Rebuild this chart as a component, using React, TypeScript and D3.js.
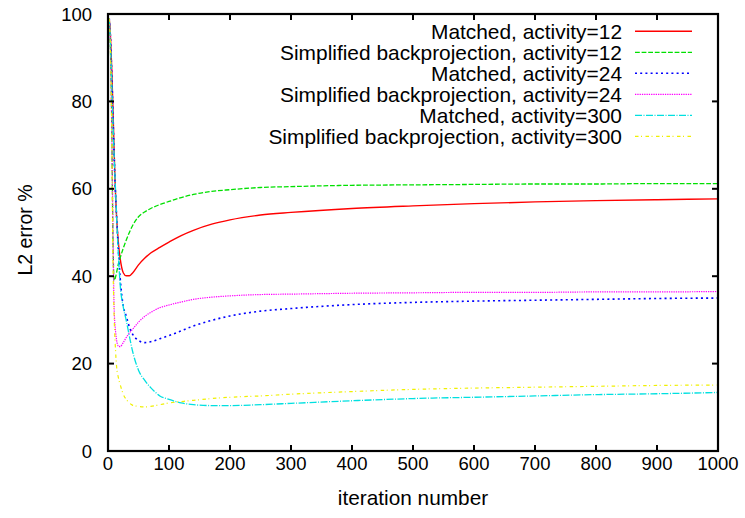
import React from "react";
import * as d3 from "d3";

const iterations = [2, 4, 6, 8, 10, 12, 14, 17, 20, 25, 30, 35, 40, 50, 60, 70, 85, 100, 120, 140, 170, 200, 250, 300, 400, 500, 600, 700, 800, 900, 1000];

const matched12 = [99, 95, 88, 79, 69, 60, 53.7, 47.7, 44.0, 40.8, 40.1, 40.1, 40.7, 42.6, 44.1, 45.3, 46.6, 47.8, 49.3, 50.5, 51.9, 52.9, 54.0, 54.6, 55.5, 56.1, 56.6, 57.0, 57.3, 57.5, 57.7];
const simplified12 = [99, 92, 76, 50, 39.0, 39.6, 40.8, 42.8, 44.2, 46.4, 48.3, 50.0, 51.5, 53.6, 54.7, 55.5, 56.4, 57.1, 58.0, 58.7, 59.4, 59.8, 60.3, 60.5, 60.8, 60.9, 61.0, 61.1, 61.1, 61.2, 61.2];
const matched24 = [99, 95, 87, 78, 68, 60, 54, 46, 39.5, 33.2, 30.8, 28.4, 26.8, 25.3, 24.8, 25.0, 25.7, 26.4, 27.5, 28.6, 29.9, 30.9, 32.0, 32.6, 33.5, 34.0, 34.3, 34.5, 34.7, 34.9, 35.0];
const simplified24 = [99, 92, 76, 52, 33, 28, 25.5, 24.0, 23.9, 24.8, 26.0, 27.0, 27.8, 29.5, 30.8, 31.7, 32.8, 33.4, 34.1, 34.7, 35.2, 35.5, 35.8, 35.9, 36.1, 36.2, 36.3, 36.3, 36.4, 36.4, 36.5];
const matched300 = [99, 93, 85, 76, 68, 61, 54, 45, 38, 33, 29.8, 26.3, 23.0, 18.5, 16.2, 14.5, 12.6, 11.8, 11.0, 10.6, 10.4, 10.4, 10.6, 10.9, 11.5, 12.0, 12.3, 12.6, 12.9, 13.1, 13.4];
const simplified300 = [99, 92, 75, 45, 31, 24, 19.5, 16.8, 15.2, 13.0, 11.8, 11.0, 10.5, 10.2, 10.1, 10.2, 10.6, 11.0, 11.3, 11.6, 12.0, 12.3, 12.6, 13.0, 13.6, 14.1, 14.4, 14.6, 14.8, 15.0, 15.1];

const seriesLabels = [
  "Matched, activity=12",
  "Simplified backprojection, activity=12",
  "Matched, activity=24",
  "Simplified backprojection, activity=24",
  "Matched, activity=300",
  "Simplified backprojection, activity=300",
];
const seriesValues = [matched12, simplified12, matched24, simplified24, matched300, simplified300];
const seriesColors = ["#ff0000", "#00e000", "#0000ff", "#ff00ff", "#00e0e0", "#f0f000"];
const seriesDash = ["none", "4.8,1.8", "2,3.2", "1.3,1", "7,1.5,1,1.5", "3.5,2.5,1,3.5"];
const seriesWidth = [1.4, 1.3, 1.6, 1.2, 1.3, 1.2];

const xTicks = [0, 100, 200, 300, 400, 500, 600, 700, 800, 900, 1000];
const yTicks = [0, 20, 40, 60, 80, 100];

const W = 745;
const H = 518;
const margin = { left: 108, right: 27, top: 14, bottom: 67 };

export default function App() {
  const x = d3.scaleLinear().domain([0, 1000]).range([margin.left, W - margin.right]);
  const y = d3.scaleLinear().domain([0, 100]).range([H - margin.bottom, margin.top]);
  const line = d3
    .line<number>()
    .x((_, i) => x(iterations[i]))
    .y((d) => y(d))
    .curve(d3.curveMonotoneX);

  const font = "'Liberation Sans', Arial, Helvetica, sans-serif";
  const tickLen = 6;
  const x0 = x(0), x1 = x(1000), y0 = y(0), y1 = y(100);

  return (
    <svg width={W} height={H} style={{ position: "absolute", left: 0, top: 0, background: "#fff" }} fontFamily={font}>
      <rect x={0} y={0} width={W} height={H} fill="#fff" />
      <defs>
        <clipPath id="plotclip">
          <rect x={x0} y={y1} width={x1 - x0} height={y0 - y1} />
        </clipPath>
      </defs>
      {/* curves */}
      <g clipPath="url(#plotclip)">
        {seriesValues.map((vals, i) => (
          <path
            key={i}
            d={line(vals) || ""}
            fill="none"
            stroke={seriesColors[i]}
            strokeWidth={seriesWidth[i]}
            strokeDasharray={seriesDash[i]}
          />
        ))}
      </g>
      {/* ticks */}
      {xTicks.map((t) => (
        <g key={"x" + t}>
          <line x1={x(t)} x2={x(t)} y1={y0} y2={y0 - tickLen} stroke="#000" strokeWidth={2} />
          <line x1={x(t)} x2={x(t)} y1={y1} y2={y1 + tickLen} stroke="#000" strokeWidth={2} />
          <text x={x(t)} y={470} fontSize={18.5} textAnchor="middle">
            {t}
          </text>
        </g>
      ))}
      {yTicks.map((t) => (
        <g key={"y" + t}>
          <line x1={x0} x2={x0 + tickLen} y1={y(t)} y2={y(t)} stroke="#000" strokeWidth={2} />
          <line x1={x1} x2={x1 - tickLen} y1={y(t)} y2={y(t)} stroke="#000" strokeWidth={2} />
          <text x={92} y={y(t)} fontSize={18.5} textAnchor="end" dominantBaseline="central">
            {t}
          </text>
        </g>
      ))}
      {/* frame */}
      <rect x={x0} y={y1} width={x1 - x0} height={y0 - y1} fill="none" stroke="#000" strokeWidth={2.2} />
      {/* axis labels */}
      <text x={(x0 + x1) / 2} y={497} fontSize={20.8} textAnchor="middle" dominantBaseline="central">
        iteration number
      </text>
      <text
        transform={`translate(25, 230) rotate(-90)`}
        fontSize={19.5}
        textAnchor="middle"
        dominantBaseline="central"
      >
        L2 error %
      </text>
      {/* legend */}
      {seriesLabels.map((lab, i) => {
        const ly = 31.3 + 21 * i;
        return (
          <g key={"l" + i}>
            <text x={622} y={ly} fontSize={20.9} textAnchor="end" dominantBaseline="central">
              {lab}
            </text>
            <line
              x1={635}
              x2={692}
              y1={ly}
              y2={ly}
              stroke={seriesColors[i]}
              strokeWidth={seriesWidth[i]}
              strokeDasharray={seriesDash[i]}
            />
          </g>
        );
      })}
    </svg>
  );
}
